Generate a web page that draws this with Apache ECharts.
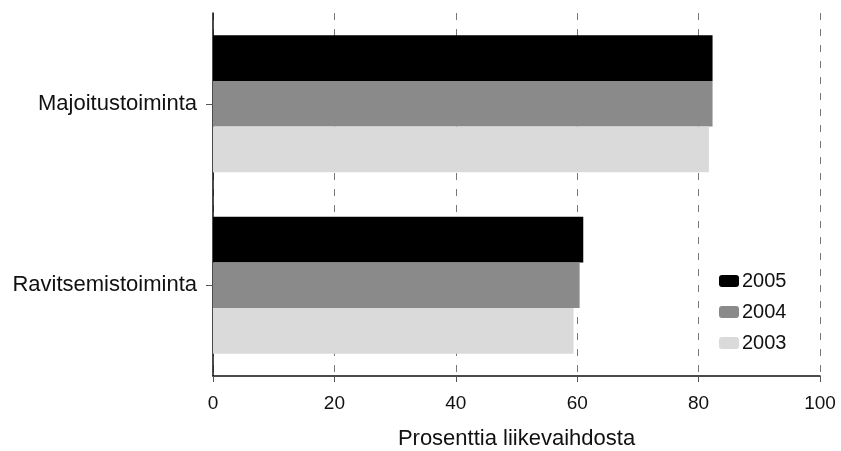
<!DOCTYPE html>
<html>
<head>
<meta charset="utf-8">
<script src="https://cdn.jsdelivr.net/npm/echarts@6/dist/echarts.min.js"></script>
<style>
  html, body { margin: 0; padding: 0; background: #fff; }
  #main { width: 841px; height: 451px; }
</style>
</head>
<body>
<div id="main"></div>
<script>
// toimialat
var categories = ["Majoitustoiminta", "Ravitsemistoiminta"];
var years = ["2005", "2004", "2003"];
// prosenttia liikevaihdosta
var values2005 = [82.3, 61.0];
var values2004 = [82.3, 60.4];
var values2003 = [81.7, 59.4];
var xTicks = [0, 20, 40, 60, 80, 100];

var colors = ["#000000", "#8a8a8a", "#dadada"];
var font = "Liberation Sans, Arial, sans-serif";

var chart = echarts.init(document.getElementById("main"));
chart.setOption({
  animation: false,
  color: colors,
  textStyle: { fontFamily: font },
  legend: {
    data: years,
    orient: "vertical",
    left: 714,
    top: 266,
    itemWidth: 20,
    itemHeight: 12,
    itemGap: 11,
    textStyle: { fontSize: 20, color: "#111", fontFamily: font, padding: [0, 0, 0, -2] }
  },
  grid: {
    left: 213,
    right: 21,
    top: 13,
    bottom: 75,
    outerBoundsMode: "none"
  },
  xAxis: {
    type: "value",
    min: xTicks[0],
    max: xTicks[xTicks.length - 1],
    interval: 20,
    name: "Prosenttia liikevaihdosta",
    nameLocation: "middle",
    nameGap: 52,
    nameTextStyle: { fontSize: 22, color: "#111", fontFamily: font },
    axisLine: { show: true, lineStyle: { color: "#111", width: 1.5 } },
    axisTick: { show: true, length: 6, lineStyle: { color: "#555" } },
    axisLabel: { fontSize: 19, color: "#111", margin: 18, fontFamily: font },
    splitLine: {
      show: true,
      lineStyle: { color: "#777", type: [7, 9], width: 1 }
    }
  },
  yAxis: {
    type: "category",
    data: categories,
    inverse: true,
    axisLine: { show: true, lineStyle: { color: "#111", width: 1.5 } },
    axisTick: { show: true, alignWithLabel: true, length: 7, lineStyle: { color: "#555" } },
    axisLabel: { fontSize: 22, color: "#111", margin: 16, fontFamily: font }
  },
  series: [
    { name: years[0], type: "bar", data: values2005, barGap: "0%", barCategoryGap: "24.5%" },
    { name: years[1], type: "bar", data: values2004, barGap: "0%", barCategoryGap: "24.5%" },
    { name: years[2], type: "bar", data: values2003, barGap: "0%", barCategoryGap: "24.5%" }
  ]
});
</script>
</body>
</html>
